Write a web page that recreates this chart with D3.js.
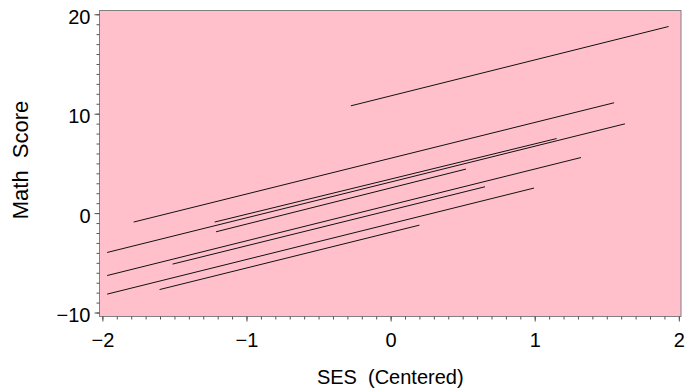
<!DOCTYPE html>
<html>
<head>
<meta charset="utf-8">
<script src="https://cdn.jsdelivr.net/npm/d3@7"></script>
<style>
  body { margin: 0; background: #fff; }
  svg { display: block; font-family: "Liberation Sans", Arial, sans-serif; }
  .lbl { white-space: pre; }
</style>
</head>
<body>
<svg id="chart" width="686" height="388"></svg>
<script>
// one fitted line per school: SES range and predicted math score at each end
const schools = ['s1', 's2', 's3', 's4', 's5', 's6', 's7', 's8', 's9'];
const sesStart = [-0.276, -1.783, -1.967, -1.221, -1.212, -1.967, -1.513, -1.967, -1.603];
const sesEnd = [1.929, 1.551, 1.626, 1.152, 0.523, 1.321, 0.655, 0.995, 0.200];
const scoreStart = [10.79, -0.90, -3.96, -0.90, -1.88, -6.28, -5.13, -8.15, -7.69];
const scoreEnd = [18.77, 11.10, 8.98, 7.50, 4.43, 5.59, 2.65, 2.52, -1.21];

const xTicks = [-2, -1, 0, 1, 2];
const yTicks = [-10, 0, 10, 20];

const svg = d3.select('#chart');
const plotL = 99.5, plotR = 681, plotT = 10.5, plotB = 316.5;

const x = d3.scaleLinear().domain([-2.02, 2.015]).range([plotL, plotR]);
const y = d3.scaleLinear().domain([-10.4, 20.38]).range([plotB, plotT]);

const fmt = d => d < 0 ? '\u2212' + Math.abs(d) : String(d);

//Plot background
svg.append('rect')
  .attr('x', plotL)
  .attr('y', plotT)
  .attr('width', plotR - plotL)
  .attr('height', plotB - plotT)
  .attr('fill', '#ffc0cb');

//Lines
svg.append('g')
  .selectAll('line')
  .data(schools)
  .join('line')
    .attr('x1', (d, i) => x(sesStart[i]))
    .attr('y1', (d, i) => y(scoreStart[i]))
    .attr('x2', (d, i) => x(sesEnd[i]))
    .attr('y2', (d, i) => y(scoreEnd[i]))
    .attr('stroke', '#111')
    .attr('stroke-width', 1);

//Frame
svg.append('rect')
  .attr('x', plotL)
  .attr('y', plotT)
  .attr('width', plotR - plotL)
  .attr('height', plotB - plotT)
  .attr('fill', 'none')
  .attr('stroke', '#808080');

//Minor ticks
svg.append('g')
  .attr('transform', `translate(0,${plotB})`)
  .call(d3.axisBottom(x).tickValues(d3.range(-20, 21).map(d => d / 10)).tickSize(3).tickFormat(''))
  .call(g => g.select('.domain').remove())
  .call(g => g.selectAll('line').attr('stroke', '#555'));

svg.append('g')
  .attr('transform', `translate(${plotL},0)`)
  .call(d3.axisLeft(y).tickValues(d3.range(-10, 21)).tickSize(3).tickFormat(''))
  .call(g => g.select('.domain').remove())
  .call(g => g.selectAll('line').attr('stroke', '#555'));

//Major ticks and labels
svg.append('g')
  .attr('transform', `translate(0,${plotB})`)
  .call(d3.axisBottom(x).tickValues(xTicks).tickSize(5).tickPadding(11).tickFormat(fmt))
  .call(g => g.select('.domain').remove())
  .call(g => g.selectAll('line').attr('stroke', '#555'))
  .call(g => g.selectAll('text').attr('font-size', 20).attr('fill', '#000').attr('font-family', null));

svg.append('g')
  .attr('transform', `translate(${plotL},0)`)
  .call(d3.axisLeft(y).tickValues(yTicks).tickSize(5).tickPadding(4).tickFormat(fmt))
  .call(g => g.select('.domain').remove())
  .call(g => g.selectAll('line').attr('stroke', '#555'))
  .call(g => g.selectAll('text').attr('font-size', 20).attr('fill', '#000').attr('font-family', null).attr('dy', '0.45em'));

//Axis titles
svg.append('text')
  .attr('class', 'lbl')
  .attr('x', (plotL + plotR) / 2)
  .attr('y', 384)
  .attr('text-anchor', 'middle')
  .attr('font-size', 20)
  .text('SES  (Centered)');

svg.append('text')
  .attr('class', 'lbl')
  .attr('transform', `translate(28,160) rotate(-90)`)
  .attr('text-anchor', 'middle')
  .attr('font-size', 22)
  .text('Math  Score');
</script>
</body>
</html>
